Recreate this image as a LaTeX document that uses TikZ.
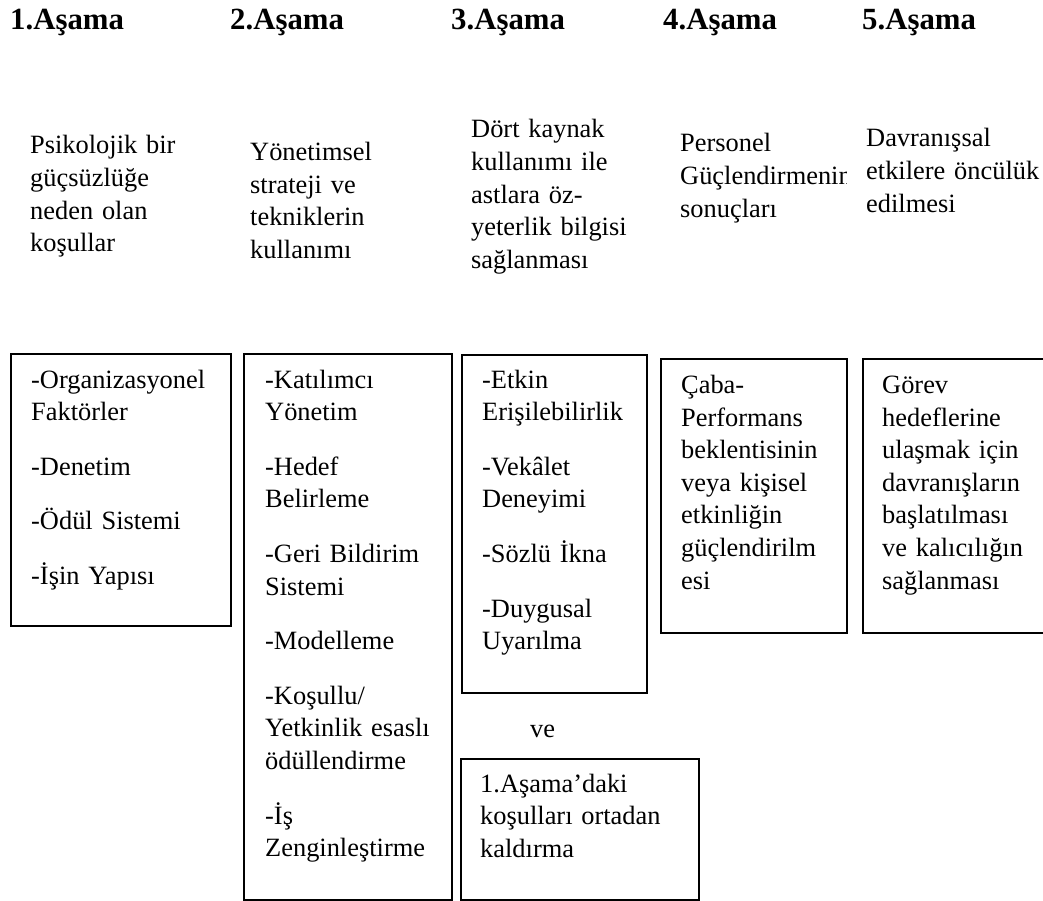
\documentclass[tikz,border=0pt]{standalone}
\usepackage{fontspec}
\setmainfont{Liberation Serif}
\usepackage{tikz}

\begin{document}
\begin{tikzpicture}[x=1pt,y=-1pt,
                    box/.style={draw,line width=1.8pt,anchor=north west,inner sep=0pt},
                    txt/.style={anchor=base west,inner sep=0pt,align=left,text width=230pt,
                                font=\fontsize{26.4}{32.6}\selectfont},
                    stage/.style={anchor=base west,inner sep=0pt,
                                  font=\fontsize{30.8}{36}\selectfont\bfseries}]
   \useasboundingbox (0,0) rectangle (1043,901);
   \clip (0,0) rectangle (1043,901);
   % stage headings
   \node[stage] (stage1) at (10,29.5) {1.Aşama};
   \node[stage] (stage2) at (230,29.5) {2.Aşama};
   \node[stage] (stage3) at (451,29.5) {3.Aşama};
   \node[stage] (stage4) at (663,29.5) {4.Aşama};
   \node[stage] (stage5) at (862,29.5) {5.Aşama};
   % what each stage is
   \node[txt] (powerless) at (30,154) {Psikolojik bir\\güçsüzlüğe\\neden olan\\koşullar};
   \node[txt] (strategy) at (250,160.7) {Yönetimsel\\strateji ve\\tekniklerin\\kullanımı};
   \node[txt] (selfEff) at (471,138) {Dört kaynak\\kullanımı ile\\astlara öz-\\yeterlik bilgisi\\sağlanması};
   \begin{scope}
     \clip (640,100) rectangle (846,300);
     \node[txt] (results) at (680,152) {Personel\\Güçlendirmenin\\sonuçları};
   \end{scope}
   \node[txt] (behave) at (866,147) {Davranışsal\\etkilere öncülük\\edilmesi};
   % boxes
   \node[box,minimum width=220pt,minimum height=272pt] (conditions) at (10,353) {};
   \node[box,minimum width=208pt,minimum height=546pt] (techniques) at (243,353) {};
   \node[box,minimum width=185pt,minimum height=338pt] (sources) at (461,354) {};
   \node[box,minimum width=186pt,minimum height=274pt] (expectancy) at (660,358) {};
   \node[box,minimum width=220pt,minimum height=274pt] (persist) at (862,358) {};
   \node[box,minimum width=238pt,minimum height=141pt] (removal) at (460,758) {};
   \node[txt] (conditionsTxt) at ([shift={(21,35)}]conditions.north west)
      {-Organizasyonel\\Faktörler\\[22pt]-Denetim\\[22pt]-Ödül Sistemi\\[22pt]-İşin Yapısı};
   \node[txt] (techniquesTxt) at ([shift={(22,35)}]techniques.north west)
      {-Katılımcı\\Yönetim\\[22pt]-Hedef\\Belirleme\\[22pt]-Geri Bildirim\\Sistemi\\[22pt]-Modelleme\\[22pt]-Koşullu/\\Yetkinlik esaslı\\ödüllendirme\\[22pt]-İş\\Zenginleştirme};
   \node[txt] (sourcesTxt) at ([shift={(21,34)}]sources.north west)
      {-Etkin\\Erişilebilirlik\\[22pt]-Vekâlet\\Deneyimi\\[22pt]-Sözlü İkna\\[22pt]-Duygusal\\Uyarılma};
   \node[txt] (expectancyTxt) at ([shift={(21,35.5)}]expectancy.north west)
      {Çaba-\\Performans\\beklentisinin\\veya kişisel\\etkinliğin\\güçlendirilm\\esi};
   \node[txt] (persistTxt) at ([shift={(20,35.5)}]persist.north west)
      {Görev\\hedeflerine\\ulaşmak için\\davranışların\\başlatılması\\ve kalıcılığın\\sağlanması};
   \node[txt,text width=60pt] (andLabel) at (530,737.5) {ve};
   \node[txt] (removalTxt) at ([shift={(20,34)}]removal.north west)
      {1.Aşama’daki\\koşulları ortadan\\kaldırma};
\end{tikzpicture}
\end{document}
